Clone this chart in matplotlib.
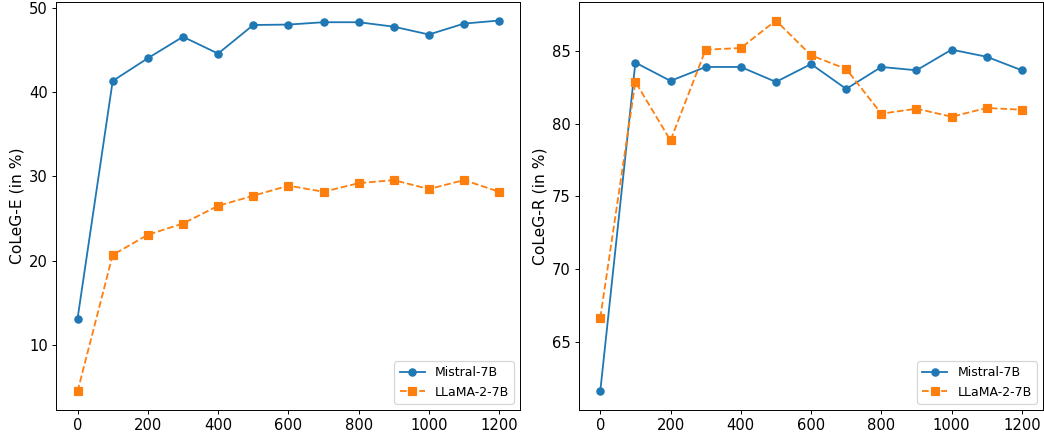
import matplotlib
matplotlib.use("Agg")
import matplotlib.pyplot as plt

steps = [0, 100, 200, 300, 400, 500, 600, 700, 800, 900, 1000, 1100, 1200]

e_mistral = [13.1, 41.35, 44.05, 46.6, 44.6, 48.0, 48.05, 48.33, 48.33, 47.8, 46.87, 48.17, 48.53]
e_llama = [4.44, 20.67, 23.06, 24.4, 26.5, 27.7, 28.9, 28.17, 29.2, 29.56, 28.5, 29.56, 28.17]

r_mistral = [61.6, 84.2, 82.94, 83.9, 83.9, 82.87, 84.1, 82.39, 83.9, 83.67, 85.09, 84.6, 83.67]
r_llama = [66.65, 82.87, 78.85, 85.09, 85.2, 87.09, 84.7, 83.76, 80.69, 81.03, 80.48, 81.08, 80.96]

fig, axes = plt.subplots(1, 2, figsize=(12, 5), dpi=87)

for ax, m, l, ylabel in [(axes[0], e_mistral, e_llama, "CoLeG-E (in %)"),
                         (axes[1], r_mistral, r_llama, "CoLeG-R (in %)")]:
    ax.plot(steps, m, marker='o', linestyle='-', color='#1f77b4', label='Mistral-7B')
    ax.plot(steps, l, marker='s', linestyle='--', color='#ff7f0e', label='LLaMA-2-7B')
    ax.set_ylabel(ylabel, fontsize=12.8)
    ax.tick_params(labelsize=12.2)
    ax.set_xticks([0, 200, 400, 600, 800, 1000, 1200])
    ax.legend(loc='lower right', fontsize=10.4)

fig.subplots_adjust(left=0.0541, right=0.999, top=0.9954, bottom=0.0576, wspace=0.127)
fig.savefig("out.png", dpi=87)
